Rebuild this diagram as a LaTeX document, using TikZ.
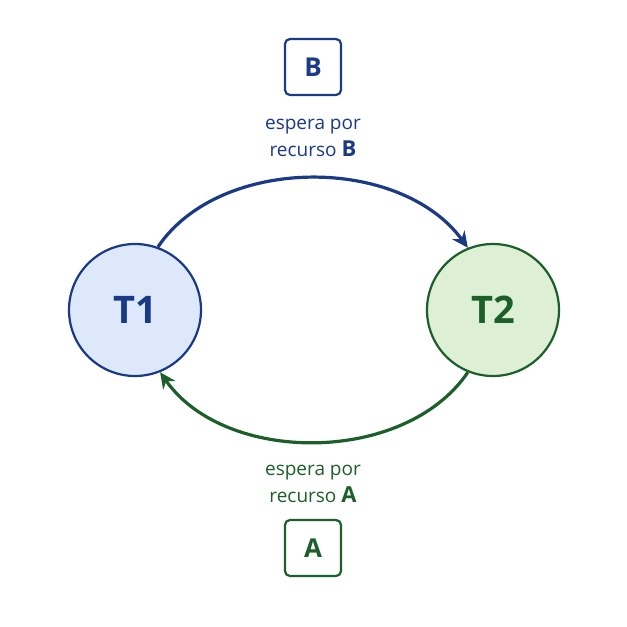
\documentclass[tikz,border=0pt]{standalone}
\usepackage{fontspec}
\setmainfont{Open Sans}
\usetikzlibrary{arrows.meta}
\definecolor{azul}{HTML}{1B3A85}
\definecolor{azulclaro}{HTML}{DDE9FB}
\definecolor{verde}{HTML}{1D5F2A}
\definecolor{verdeclaro}{HTML}{DDF0D6}
\tikzset{
  tarefa/.style={draw, circle, line width=2.2pt, minimum size=132pt, font=\fontsize{38}{44}\selectfont\bfseries},
  recurso/.style={draw, rounded corners=5pt, line width=2.2pt, minimum size=56pt, font=\fontsize{26}{30}\selectfont\bfseries},
  rotulo/.style={align=center, font=\fontsize{19}{27}\selectfont},
  seta/.style={line width=3.2pt, -{Stealth[length=16pt,width=15pt]}}
}
\begin{document}
\begin{tikzpicture}[x=1pt,y=-1pt]
\useasboundingbox[fill=white] (0,0) rectangle (627,627);

\node[tarefa, draw=azul, fill=azulclaro, text=azul] (t1) at (135,310) {T1};
\node[tarefa, draw=verde, fill=verdeclaro, text=verde] (t2) at (493,310) {T2};

\node[recurso, draw=azul, text=azul] (rb) at (313,67) {B};
\node[rotulo, text=azul] (lb) at (313,138) {espera por\\recurso \textbf{\fontsize{22}{27}\selectfont B}};

\node[rotulo, text=verde] (la) at (313,484) {espera por\\recurso \textbf{\fontsize{22}{27}\selectfont A}};
\node[recurso, draw=verde, text=verde] (ra) at (313,548) {A};

% ciclo de espera
\draw[seta, azul] (t1.70) .. controls (220,155) and (400,155) .. (t2.112);
\draw[seta, verde] (t2.-112) .. controls (405,465) and (225,465) .. (t1.-68);
\end{tikzpicture}
\end{document}
